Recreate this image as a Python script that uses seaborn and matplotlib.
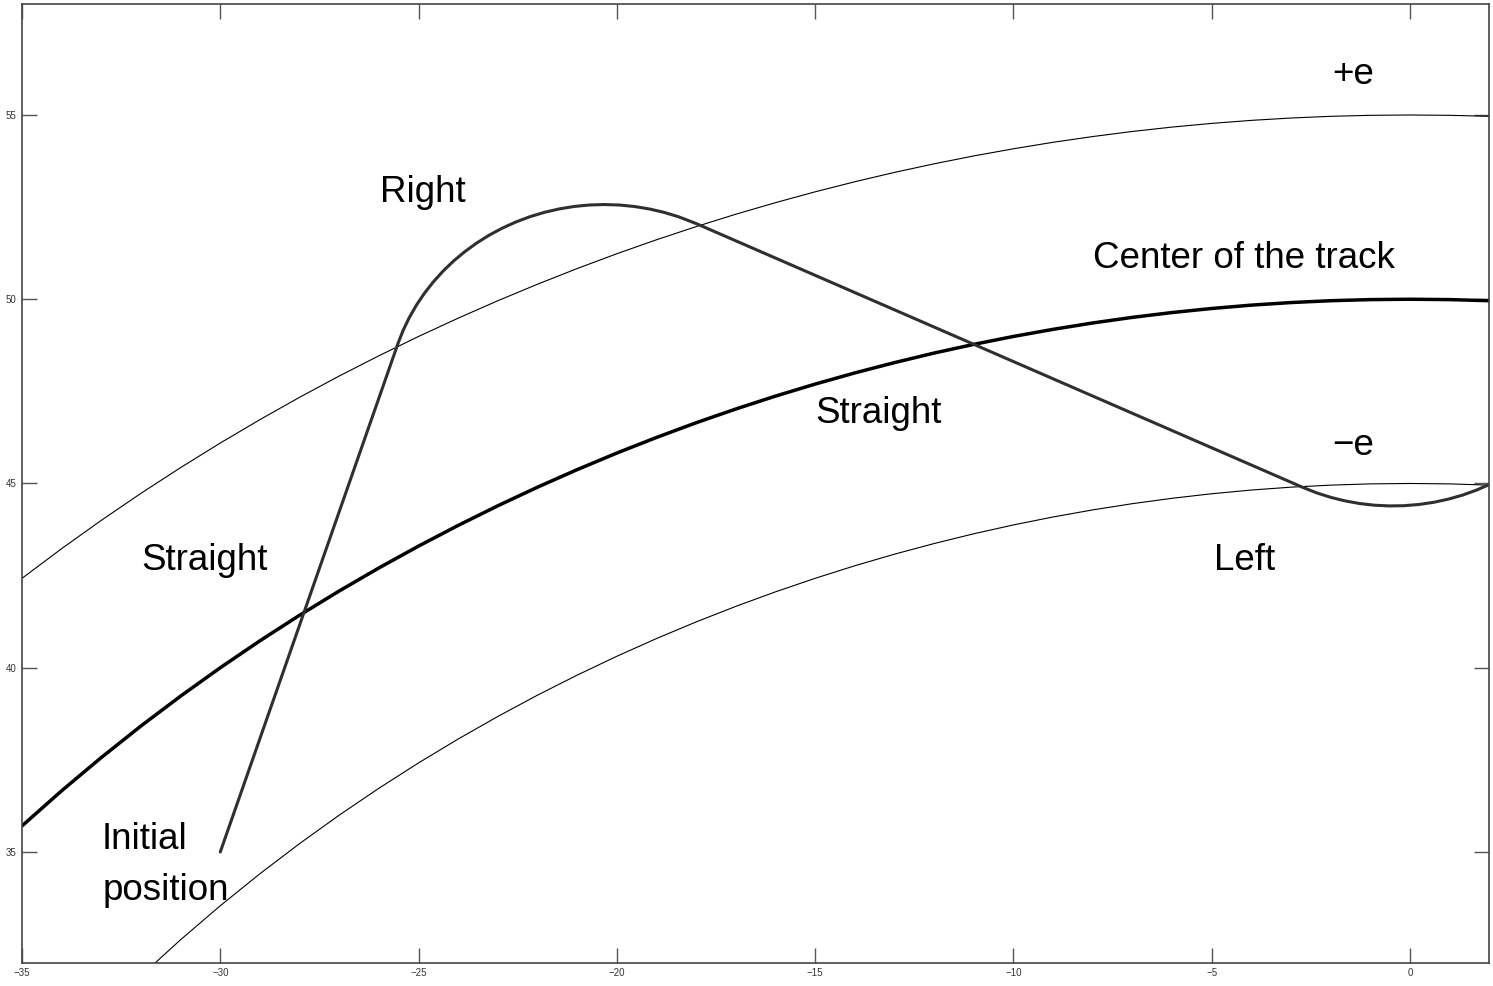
import matplotlib
matplotlib.use("Agg")
import matplotlib.pyplot as plt
import seaborn as sns
import pandas as pd

# ---- data ----
track_x = [-35, -34, -33, -32, -31, -30, -29, -28, -27, -26, -25, -24, -23, -22, -21,
           -20, -19, -18, -17, -16, -15, -14, -13, -12, -11, -10, -9, -8, -7, -6,
           -5, -4, -3, -2, -1, 0, 1, 2]
center_y = [35.707, 36.661, 37.563, 38.419, 39.230, 40.000, 40.731, 41.425, 42.083, 42.708,
            43.301, 43.863, 44.396, 44.900, 45.376, 45.826, 46.249, 46.648, 47.021, 47.371,
            47.697, 48.000, 48.280, 48.539, 48.775, 48.990, 49.183, 49.356, 49.508, 49.639,
            49.749, 49.840, 49.910, 49.960, 49.990, 50.000, 49.990, 49.960]
plus_e_y = [42.426, 43.232, 44.000, 44.733, 45.431, 46.098, 46.733, 47.339, 47.917, 48.466,
            48.990, 49.487, 49.960, 50.408, 50.833, 51.235, 51.614, 51.971, 52.307, 52.621,
            52.915, 53.188, 53.442, 53.675, 53.889, 54.083, 54.259, 54.415, 54.553, 54.672,
            54.772, 54.854, 54.918, 54.964, 54.991, 55.000, 54.991, 54.964]
minus_e_y = [28.284, 29.479, 30.594, 31.639, 32.619, 33.541, 34.409, 35.228, 36.000, 36.729,
             37.417, 38.066, 38.678, 39.256, 39.799, 40.311, 40.792, 41.243, 41.665, 42.059,
             42.426, 42.767, 43.081, 43.370, 43.635, 43.875, 44.091, 44.283, 44.452, 44.598,
             44.721, 44.822, 44.900, 44.955, 44.989, 45.000, 44.989, 44.955]

# vehicle path: straight, right turn, straight, left turn
traj_x = [-30.0,
          -25.522, -25.392, -25.236, -25.057, -24.855, -24.630, -24.385, -24.120, -23.836,
          -23.535, -23.219, -22.888, -22.545, -22.191, -21.828, -21.457, -21.081, -20.702,
          -20.320, -19.938, -19.559, -19.183, -18.812, -18.449, -18.008,
          -2.704, -2.358, -2.003, -1.640, -1.272, -0.899, -0.524, -0.148, 0.226, 0.597,
          0.962, 1.322, 1.672, 2.012]
traj_y = [35.0,
          48.790, 49.149, 49.498, 49.835, 50.159, 50.468, 50.760, 51.035, 51.290,
          51.525, 51.739, 51.930, 52.097, 52.240, 52.358, 52.450, 52.517, 52.557,
          52.570, 52.557, 52.517, 52.450, 52.358, 52.240, 52.057,
          44.894, 44.747, 44.625, 44.528, 44.456, 44.410, 44.391, 44.397, 44.430, 44.489,
          44.573, 44.683, 44.818, 44.976]

x_ticks = [-35, -30, -25, -20, -15, -10, -5, 0]
y_ticks = [35, 40, 45, 50, 55]

labels = ["+e", "Center of the track", "Right", "Straight", "\u2212e", "Straight", "Left",
          "Initial\nposition"]
label_x = [-1.97, -7.99, -25.97, -15.0, -1.97, -32.0, -4.95, -32.98]
label_y = [55.84, 50.85, 52.64, 46.64, 45.77, 42.65, 42.65, 33.70]

# ---- plotting ----
sns.set_theme(style="white")
plt.rcParams["font.family"] = ["Liberation Sans", "DejaVu Sans"]

fig = plt.figure(figsize=(14.93, 9.86), dpi=100)
ax = fig.add_axes([0.01474, 0.02383, 0.99752 - 0.01474, 0.99549 - 0.02383])

track = pd.DataFrame({"x": track_x, "center": center_y, "plus": plus_e_y, "minus": minus_e_y})
traj = pd.DataFrame({"x": traj_x, "y": traj_y})

sns.lineplot(data=track, x="x", y="plus", ax=ax, color="black", lw=0.8, estimator=None, sort=False)
sns.lineplot(data=track, x="x", y="minus", ax=ax, color="black", lw=0.8, estimator=None, sort=False)
sns.lineplot(data=track, x="x", y="center", ax=ax, color="black", lw=2.5, estimator=None, sort=False)
sns.lineplot(data=traj, x="x", y="y", ax=ax, color="#2f2f2f", lw=2.2, estimator=None, sort=False)

for t, x, y in zip(labels, label_x, label_y):
    ax.text(x, y, t, fontsize=26.5, color="black", ha="left", va="baseline",
            linespacing=1.58)

ax.set_xlim(-35, 2)
ax.set_ylim(32, 58)
ax.set_xticks(x_ticks)
ax.set_yticks(y_ticks)
ax.set_xlabel("")
ax.set_ylabel("")
ax.tick_params(axis="both", which="both", direction="in", length=11, width=1.0,
               color="#555555", labelsize=7, labelcolor="#333333", pad=4,
               top=True, right=True, bottom=True, left=True)
for s in ax.spines.values():
    s.set_visible(True)
    s.set_color("#444444")
    s.set_linewidth(1.2)
ax.grid(False)
ax.set_facecolor("white")
fig.patch.set_facecolor("white")

fig.savefig("out.png", dpi=100, facecolor="white")
